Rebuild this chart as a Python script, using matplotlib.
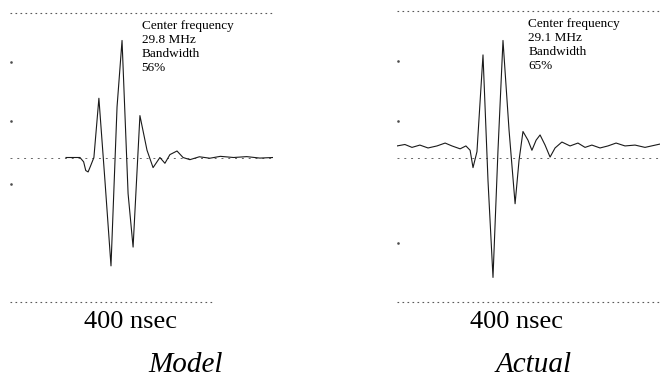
import matplotlib
matplotlib.use("Agg")
import matplotlib.pyplot as plt
import numpy as np

# waveform samples (time in ns, amplitude in arbitrary units)
model_t = [0, 213, 266, 280, 288, 297, 306, 319, 338, 361, 384, 407, 426,
           449, 468, 494, 521, 544, 570, 589, 608, 635, 658, 684, 720, 760,
           800, 850, 900, 950, 1000]
model_a = [0, 0, 0, -0.03, -0.09, -0.10, -0.06, 0, 0.41, -0.16, -0.75, 0.35,
           0.81, -0.25, -0.62, 0.29, 0.05, -0.07, 0, -0.04, 0.02, 0.045, 0,
           -0.015, 0.005, -0.005, 0.008, 0, 0.006, -0.004, 0]

actual_t = [0, 30, 57, 87, 118, 152, 183, 209, 240, 262, 278, 289, 304, 327,
            346, 365, 384, 403, 426, 449, 464, 479, 498, 513, 529, 544, 563,
            582, 601, 627, 658, 688, 715, 741, 772, 802, 833, 867, 905, 943,
            1000]
actual_a = [0.08, 0.09, 0.07, 0.086, 0.066, 0.08, 0.10, 0.08, 0.06, 0.08, 0.05,
            -0.07, 0.04, 0.71, -0.16, -0.83, 0.05, 0.81, 0.19, -0.32, -0.02,
            0.18, 0.12, 0.05, 0.12, 0.156, 0.086, 0.003, 0.066, 0.107, 0.08,
            0.10, 0.07, 0.086, 0.066, 0.08, 0.10, 0.08, 0.086, 0.07, 0.093]

panel_names = ["Model", "Actual"]
center_freq = ["29.8 MHz", "29.1 MHz"]
bandwidth = ["56%", "65%"]
scale_label = "400 nsec"

serif = ["Liberation Serif", "DejaVu Serif"]
dots = (0, (1.5, 3))

fig = plt.figure(figsize=(6.6, 3.79), dpi=100)
W, H = 660, 379

def panel(x0, top, t, a, cf, bw, bottom_span, tick_y, trace_x0):
    ax = fig.add_axes([x0 / W, 1 - 302 / H, 263 / W, (302 - top) / H])
    ax.set_xlim(0, 1000)
    ax.set_ylim(-1, 1 + (13 - top) / 144.5)
    for s in ax.spines.values():
        s.set_visible(False)
    ax.set_xticks([])
    ax.set_yticks([])
    ax.axhline(ax.get_ylim()[1], color="0.35", lw=0.8, ls=dots, clip_on=False)
    ax.axhline(-1, xmin=bottom_span[0], xmax=bottom_span[1], color="0.35",
               lw=0.8, ls=dots, clip_on=False)
    ax.axhline(0, color="0.4", lw=0.7, ls=(0, (2, 5)))
    ax.plot([5] * len(tick_y), tick_y, ls="none", marker="s", ms=0.8,
            color="0.3")
    t = np.array(t)
    a = np.array(a)
    keep = t >= trace_x0
    ax.plot(t[keep], a[keep], color="0.1", lw=0.8)
    ax.text(0.5, 0.975, "Center frequency\n%s\nBandwidth\n%s" % (cf, bw),
            transform=ax.transAxes, va="top", ha="left", fontsize=9.5,
            family=serif, linespacing=1.22)
    return ax

panel(10, 13, model_t, model_a, center_freq[0], bandwidth[0],
      bottom_span=(0, 0.77), tick_y=[0.66, 0.25, -0.18], trace_x0=213)
panel(397, 11, actual_t, actual_a, center_freq[1], bandwidth[1],
      bottom_span=(0, 1), tick_y=[0.67, 0.25, -0.59], trace_x0=0)

fig.text(131 / W, 1 - 328 / H, scale_label, ha="center", va="baseline",
         fontsize=19, family=serif)
fig.text(516 / W, 1 - 328 / H, scale_label, ha="center", va="baseline",
         fontsize=19, family=serif)
fig.text(186 / W, 1 - 372 / H, panel_names[0], ha="center", va="baseline",
         fontsize=21, family=serif, style="italic")
fig.text(534 / W, 1 - 372 / H, panel_names[1], ha="center", va="baseline",
         fontsize=21, family=serif, style="italic")

fig.savefig("out.png", dpi=100)
